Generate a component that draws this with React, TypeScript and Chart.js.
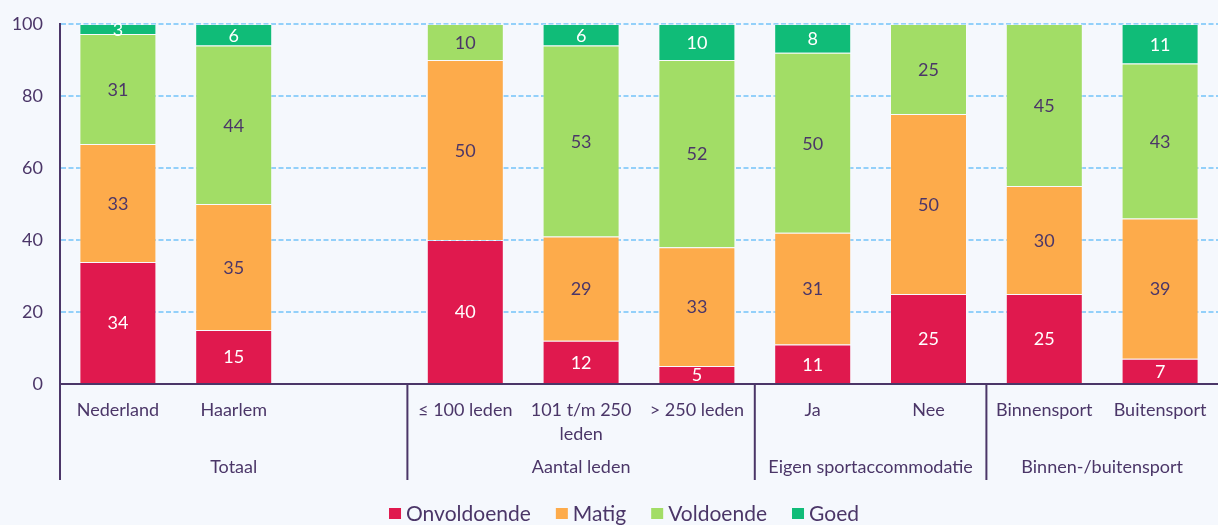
import React, { useEffect, useRef } from 'react';
import { Chart, registerables } from 'chart.js';
Chart.register(...registerables);

const categories: string[][] = [
  ['Nederland'], ['Haarlem'], [''], ['≤ 100 leden'], ['101 t/m 250', 'leden'],
  ['> 250 leden'], ['Ja'], ['Nee'], ['Binnensport'], ['Buitensport'],
];
const groupLabels = ['Totaal', 'Aantal leden', 'Eigen sportaccommodatie', 'Binnen-/buitensport'];
const groupStarts = [0, 3, 6, 8];
const groupEnds = [2, 5, 7, 9];
const seriesNames = ['Onvoldoende', 'Matig', 'Voldoende', 'Goed'];
const onvoldoende = [33.9, 15, null, 40, 12, 5, 11, 25, 25, 7];
const matig = [32.8, 35, null, 50, 29, 33, 31, 50, 30, 39];
const voldoende = [30.5, 44, null, 10, 53, 52, 50, 25, 45, 43];
const goed = [2.8, 6, null, 0, 6, 10, 8, 0, 0, 11];
const yTicks = [0, 20, 40, 60, 80, 100];

const COLORS = ['#E0194E', '#FDAB4B', '#A2DD66', '#10BC78'];
const LABEL_COLORS = ['#FFFFFF', '#4B3668', '#4B3668', '#FFFFFF'];
const TEXT = '#4B3668';
const FONT = 'Lato';

const dataLabelPlugin = {
  id: 'dataLabels',
  afterDatasetsDraw(chart: any) {
    const ctx = chart.ctx;
    ctx.save();
    ctx.font = `18px ${FONT}`;
    ctx.textAlign = 'center';
    ctx.textBaseline = 'middle';
    chart.data.datasets.forEach((ds: any, di: number) => {
      const meta = chart.getDatasetMeta(di);
      meta.data.forEach((bar: any, i: number) => {
        const v = ds.data[i];
        if (v == null || v <= 0) return;
        const p = bar.getProps(['x', 'y', 'base'], true);
        ctx.fillStyle = LABEL_COLORS[di];
        ctx.fillText(String(Math.round(v)), p.x, (p.y + p.base) / 2 + 1);
      });
    });
    ctx.restore();
  },
};

const groupPlugin = {
  id: 'groups',
  afterDraw(chart: any) {
    const ctx = chart.ctx;
    const x = chart.scales.x;
    const area = chart.chartArea;
    const slot = (x.getPixelForValue(1) - x.getPixelForValue(0));
    ctx.save();
    ctx.strokeStyle = TEXT;
    ctx.lineWidth = 2;
    ctx.fillStyle = TEXT;
    ctx.font = `18px ${FONT}`;
    ctx.textAlign = 'center';
    ctx.textBaseline = 'middle';
    groupLabels.forEach((g, gi) => {
      const left = x.getPixelForValue(groupStarts[gi]) - slot / 2;
      const right = x.getPixelForValue(groupEnds[gi]) + slot / 2;
      ctx.beginPath();
      ctx.moveTo(left, area.bottom);
      ctx.lineTo(left, area.bottom + 96);
      ctx.stroke();
      ctx.fillText(g, (left + right) / 2, area.bottom + 83);
    });

    // legend
    ctx.font = `21px ${FONT}`;
    ctx.textAlign = 'left';
    const box = 12, gap = 5, itemGap = 25;
    const widths = chart.data.datasets.map((d: any) => ctx.measureText(d.label).width);
    let total = 0;
    widths.forEach((w: number, i: number) => { total += box + gap + w + (i > 0 ? itemGap : 0); });
    let cx = 624 - total / 2;
    const cy = 513;
    chart.data.datasets.forEach((d: any, i: number) => {
      ctx.fillStyle = d.backgroundColor;
      ctx.fillRect(cx, cy - 5, box, 11);
      ctx.fillStyle = TEXT;
      ctx.fillText(d.label, cx + box + gap, cy + 1);
      cx += box + gap + widths[i] + itemGap;
    });
    ctx.restore();
  },
};

export default function App() {
  const ref = useRef<HTMLCanvasElement>(null);
  useEffect(() => {
    const series = [onvoldoende, matig, voldoende, goed];
    const chart = new Chart(ref.current!, {
      type: 'bar',
      data: {
        labels: categories,
        datasets: series.map((d, i) => ({
          label: seriesNames[i],
          data: d,
          backgroundColor: COLORS[i],
          borderColor: 'rgba(255,255,255,0.35)',
          borderWidth: 1,
          barPercentage: 0.665,
          categoryPercentage: 1,
        })),
      },
      options: {
        animation: false,
        responsive: true,
        maintainAspectRatio: false,
        layout: { padding: { top: 24, right: 0, left: 0, bottom: 45 } },
        plugins: {
          tooltip: { enabled: false },
          legend: { display: false },
        },
        scales: {
          x: {
            stacked: true,
            grid: { display: false },
            border: { display: true, color: TEXT, width: 2 },
            ticks: {
              color: TEXT,
              font: { family: FONT, size: 18, lineHeight: 1.33 },
              padding: 6,
              maxRotation: 0,
              autoSkip: false,
            },
            afterFit: (s: any) => { s.height = 96; s.paddingLeft = 0; s.paddingRight = 0; },
          },
          y: {
            stacked: true,
            min: 0,
            max: 100,
            afterBuildTicks: (s: any) => { s.ticks = yTicks.map((v) => ({ value: v })); },
            grid: {
              color: (c: any) => (c.tick && c.tick.value === 0 ? 'rgba(0,0,0,0)' : '#93D0FA'),
              lineWidth: 2,
              drawTicks: false,
            },
            border: { display: true, color: TEXT, width: 2, dash: [5, 2.5] },
            ticks: {
              color: TEXT,
              font: { family: FONT, size: 18 },
              padding: 17,
            },
            afterFit: (s: any) => { s.width = 60; s.paddingTop = 0; s.paddingBottom = 0; },
          },
        },
      },
      plugins: [dataLabelPlugin, groupPlugin],
    });
    return () => chart.destroy();
  }, []);
  return (
    <div style={{ position: 'fixed', left: 0, top: 0, width: 1218, height: 525, background: '#F5F8FD' }}>
      <canvas ref={ref} />
    </div>
  );
}
